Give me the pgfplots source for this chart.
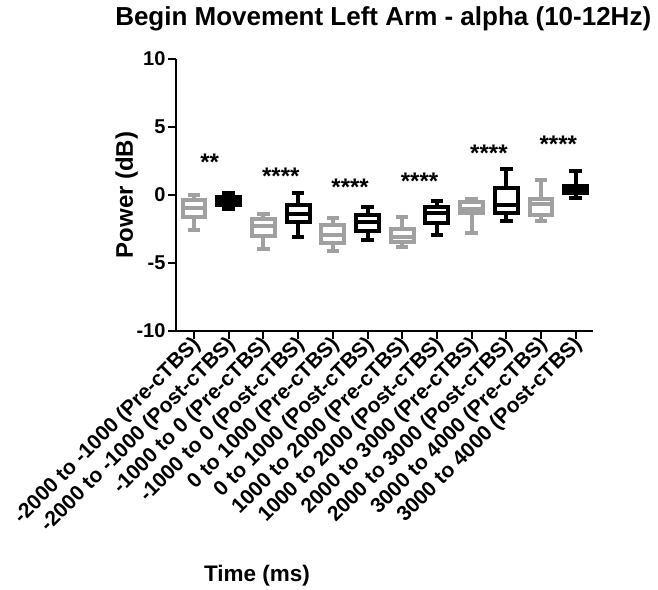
\documentclass[border=0pt]{standalone}
\usepackage{pgfplots}
\pgfplotsset{compat=1.18}
\usepgfplotslibrary{statistics}
\usepackage{fontspec}
\setmainfont{Liberation Sans}
\definecolor{pregray}{RGB}{160,160,160}

\begin{document}
\begin{tikzpicture}
\begin{axis}[
  scale only axis,
  width=417pt, height=272pt,
  xmin=-0.52, xmax=11.5,
  ymin=-10, ymax=10,
  ytick={-10,-5,0,5,10},
  xtick={0,...,11},
  xticklabels={
    -2000 to -1000 (Pre-cTBS),
    -2000 to -1000 (Post-cTBS),
    -1000 to 0 (Pre-cTBS),
    -1000 to 0 (Post-cTBS),
    0 to 1000 (Pre-cTBS),
    0 to 1000 (Post-cTBS),
    1000 to 2000 (Pre-cTBS),
    1000 to 2000 (Post-cTBS),
    2000 to 3000 (Pre-cTBS),
    2000 to 3000 (Post-cTBS),
    3000 to 4000 (Pre-cTBS),
    3000 to 4000 (Post-cTBS)},
  axis x line*=bottom, axis y line*=left,
  axis line style={line width=2pt},
  tick style={line width=2pt, black},
  tick align=outside,
  major tick length=8pt,
  /pgf/number format/assume math mode=true,
  yticklabel style={font=\fontsize{20}{20}\selectfont\bfseries, xshift=1pt},
  xticklabel style={font=\fontsize{21}{21}\selectfont\bfseries, rotate=45, anchor=east, xshift=4pt, yshift=-4pt},
  title={Begin Movement Left Arm - alpha (10-12Hz)},
  title style={font=\fontsize{26}{26}\selectfont\bfseries, at={(axis description cs:0.497,1)}, anchor=base, yshift=28pt},
  ylabel={Power (dB)},
  ylabel style={font=\fontsize{24}{24}\selectfont\bfseries, at={(axis description cs:0,0.5)}, anchor=base, xshift=0pt, yshift=43pt},
  xlabel={Time (ms)},
  xlabel style={font=\fontsize{22.5}{22.5}\selectfont\bfseries, at={(axis description cs:0,0)}, anchor=base, xshift=81pt, yshift=-250pt},
  clip=false,
  boxplot/draw direction=y,
  boxplot/box extend=0.66,
  boxplot/whisker extend=0.36,
]
\coordinate (O) at (rel axis cs:0,0);

% Pre-cTBS (gray) and Post-cTBS (black) distributions per time window
\addplot+[boxplot prepared={draw position=0, lower whisker=-2.57, lower quartile=-1.65, median=-0.95, upper quartile=-0.35, upper whisker=0.0}, draw=pregray, line width=4pt, mark=none, solid] coordinates {};
\addplot+[boxplot prepared={draw position=1, lower whisker=-1.03, lower quartile=-0.7, median=-0.42, upper quartile=-0.15, upper whisker=0.12}, draw=black, line width=4pt, mark=none, solid] coordinates {};
\addplot+[boxplot prepared={draw position=2, lower whisker=-4.0, lower quartile=-3.05, median=-2.3, upper quartile=-1.8, upper whisker=-1.4}, draw=pregray, line width=4pt, mark=none, solid] coordinates {};
\addplot+[boxplot prepared={draw position=3, lower whisker=-3.1, lower quartile=-1.95, median=-1.4, upper quartile=-0.75, upper whisker=0.17}, draw=black, line width=4pt, mark=none, solid] coordinates {};
\addplot+[boxplot prepared={draw position=4, lower whisker=-4.15, lower quartile=-3.55, median=-2.95, upper quartile=-2.2, upper whisker=-1.72}, draw=pregray, line width=4pt, mark=none, solid] coordinates {};
\addplot+[boxplot prepared={draw position=5, lower whisker=-3.3, lower quartile=-2.62, median=-1.95, upper quartile=-1.47, upper whisker=-0.86}, draw=black, line width=4pt, mark=none, solid] coordinates {};
\addplot+[boxplot prepared={draw position=6, lower whisker=-3.85, lower quartile=-3.43, median=-3.1, upper quartile=-2.52, upper whisker=-1.64}, draw=pregray, line width=4pt, mark=none, solid] coordinates {};
\addplot+[boxplot prepared={draw position=7, lower whisker=-2.94, lower quartile=-2.08, median=-1.35, upper quartile=-0.9, upper whisker=-0.44}, draw=black, line width=4pt, mark=none, solid] coordinates {};
\addplot+[boxplot prepared={draw position=8, lower whisker=-2.82, lower quartile=-1.3, median=-1.05, upper quartile=-0.5, upper whisker=-0.29}, draw=pregray, line width=4pt, mark=none, solid] coordinates {};
\addplot+[boxplot prepared={draw position=9, lower whisker=-1.89, lower quartile=-1.3, median=-0.75, upper quartile=0.5, upper whisker=1.91}, draw=black, line width=4pt, mark=none, solid] coordinates {};
\addplot+[boxplot prepared={draw position=10, lower whisker=-1.89, lower quartile=-1.47, median=-0.65, upper quartile=-0.32, upper whisker=1.1}, draw=pregray, line width=4pt, mark=none, solid] coordinates {};
\addplot+[boxplot prepared={draw position=11, lower whisker=-0.24, lower quartile=0.17, median=0.45, upper quartile=0.66, upper whisker=1.79}, draw=black, line width=4pt, mark=none, solid] coordinates {};

% significance of each Pre/Post comparison
\begin{scope}[every node/.style={font=\fontsize{24}{24}\selectfont\bfseries, inner sep=0pt}]
\node at (axis cs:0.45,2.4) {**};
\node at (axis cs:2.5,1.4) {****};
\node at (axis cs:4.5,0.6) {****};
\node at (axis cs:6.5,0.98) {****};
\node at (axis cs:8.5,3.1) {****};
\node at (axis cs:10.5,3.75) {****};
\end{scope}
\end{axis}
\pgfresetboundingbox
\path[use as bounding box] (O) ++(-176pt,-258pt) rectangle ++(658pt,589pt);
\end{tikzpicture}
\end{document}
